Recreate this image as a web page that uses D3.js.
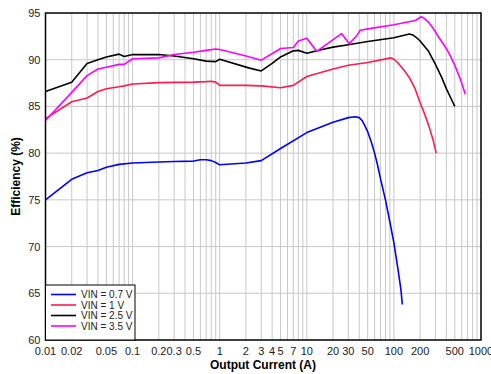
<!DOCTYPE html>
<html>
<head>
<meta charset="utf-8">
<script src="https://cdn.jsdelivr.net/npm/d3@7"></script>
<style>
  body { margin: 0; background: #fff; }
  svg { display: block; font-family: "Liberation Sans", Arial, sans-serif; }
</style>
</head>
<body>
<div id="chart"></div>
<script>
// ---- data ----
const xTickValues = [0.01, 0.02, 0.05, 0.1, 0.2, 0.3, 0.5, 1, 2, 3, 4, 5, 7, 10, 20, 30, 50, 100, 200, 500, 1000];
const yTickValues = [60, 65, 70, 75, 80, 85, 90, 95];

const seriesNames = ["VIN = 0.7 V", "VIN = 1 V", "VIN = 2.5 V", "VIN = 3.5 V"];
const seriesColors = ["#0000ff", "#ff1a4f", "#000000", "#ff00ff"];

const vin07Current = [0.01, 0.02, 0.03, 0.04, 0.05, 0.07, 0.1, 0.2, 0.3, 0.5, 0.6, 0.7, 0.8, 0.9, 1, 2, 3, 5, 10, 20, 30, 36, 40, 43, 46, 50, 55, 60, 65, 70, 80, 90, 100, 110, 120, 125];
const vin07Eff     = [75.0, 77.2, 77.9, 78.15, 78.5, 78.8, 78.95, 79.05, 79.1, 79.15, 79.3, 79.3, 79.2, 79.0, 78.75, 78.95, 79.2, 80.5, 82.2, 83.3, 83.8, 83.9, 83.8, 83.5, 83.0, 82.3, 81.2, 80.0, 78.7, 77.3, 75.0, 72.6, 70.4, 67.9, 65.5, 63.8];

const vin1Current = [0.01, 0.02, 0.03, 0.04, 0.05, 0.07, 0.08, 0.1, 0.2, 0.5, 0.7, 0.8, 0.9, 1, 2, 3, 5, 7, 10, 20, 30, 50, 92, 100, 110, 120, 135, 150, 175, 200, 225, 250, 280, 306];
const vin1Eff     = [83.7, 85.5, 85.9, 86.6, 86.9, 87.1, 87.2, 87.4, 87.55, 87.6, 87.65, 87.7, 87.6, 87.25, 87.25, 87.2, 87.0, 87.25, 88.2, 89.0, 89.4, 89.7, 90.2, 90.05, 89.7, 89.3, 88.7, 88.1, 86.9, 85.4, 84.2, 83.0, 81.5, 80.0];

const vin25Current = [0.01, 0.02, 0.03, 0.04, 0.05, 0.07, 0.08, 0.1, 0.2, 0.3, 0.5, 0.7, 0.9, 1, 2.2, 3, 4, 5, 7, 8, 10, 15, 20, 30, 50, 100, 135, 150, 165, 180, 200, 250, 300, 350, 400, 450, 500];
const vin25Eff     = [86.6, 87.6, 89.6, 90.0, 90.3, 90.6, 90.35, 90.55, 90.55, 90.4, 90.1, 89.85, 89.8, 90.05, 89.1, 88.8, 89.6, 90.3, 90.95, 91.0, 90.7, 91.1, 91.35, 91.6, 91.95, 92.35, 92.65, 92.75, 92.65, 92.4, 92.0, 90.9, 89.5, 88.2, 86.9, 85.9, 85.0];

const vin35Current = [0.01, 0.02, 0.03, 0.04, 0.05, 0.07, 0.08, 0.1, 0.2, 0.3, 0.5, 0.7, 0.9, 1, 2, 3, 5, 7, 8, 10, 13, 25, 30.7, 37.6, 41, 50, 100, 176, 206, 225, 250, 280, 312, 350, 406, 450, 500, 580, 660];
const vin35Eff     = [83.5, 86.5, 88.3, 89.0, 89.2, 89.5, 89.5, 90.1, 90.2, 90.55, 90.8, 91.0, 91.15, 91.1, 90.4, 89.95, 91.2, 91.3, 92.0, 92.3, 90.9, 92.8, 91.7, 92.6, 93.15, 93.3, 93.75, 94.2, 94.6, 94.4, 94.0, 93.4, 92.7, 92.0, 91.1, 90.3, 89.4, 87.9, 86.3];

const seriesCurrents = [vin07Current, vin1Current, vin25Current, vin35Current];
const seriesEffs = [vin07Eff, vin1Eff, vin25Eff, vin35Eff];

// ---- layout ----
const width = 491, height = 374;
const plot = { left: 45.5, right: 481, top: 13, bottom: 340 };

const svg = d3.select("#chart").append("svg")
    .attr("width", width)
    .attr("height", height);

const x = d3.scaleLog().domain([0.01, 1000]).range([plot.left, plot.right]);
const y = d3.scaleLinear().domain([60, 95]).range([plot.bottom, plot.top]);

// grid: every 1..9 in each decade
const xGrid = [];
for (let e = -2; e < 3; e++) {
  for (let m = 1; m <= 9; m++) xGrid.push(m * Math.pow(10, e));
}

svg.append("g")
  .selectAll("line")
  .data(xGrid.filter(v => v > 0.01 * 1.0001))
  .enter().append("line")
  .attr("x1", d => x(d)).attr("x2", d => x(d))
  .attr("y1", plot.top).attr("y2", plot.bottom)
  .attr("stroke", "#c8c8c8")
  .attr("stroke-width", 1);

svg.append("g")
  .selectAll("line")
  .data(yTickValues.slice(1, -1))
  .enter().append("line")
  .attr("x1", plot.left).attr("x2", plot.right)
  .attr("y1", d => y(d)).attr("y2", d => y(d))
  .attr("stroke", "#c8c8c8")
  .attr("stroke-width", 1);

// curves (plain polylines like the reference)
const line = d3.line()
  .x(d => x(d[0]))
  .y(d => y(d[1]));

seriesNames.forEach((name, i) => {
  const pts = seriesCurrents[i].map((c, j) => [c, seriesEffs[i][j]]);
  svg.append("path")
    .datum(pts)
    .attr("d", line)
    .attr("fill", "none")
    .attr("stroke", seriesColors[i])
    .attr("stroke-width", 1.6)
    .attr("stroke-linejoin", "round");
});

// frame
svg.append("rect")
  .attr("x", plot.left).attr("y", plot.top)
  .attr("width", plot.right - plot.left)
  .attr("height", plot.bottom - plot.top)
  .attr("fill", "none")
  .attr("stroke", "#000")
  .attr("stroke-width", 1.5);

// tick labels
svg.append("g")
  .selectAll("text")
  .data(xTickValues)
  .enter().append("text")
  .attr("x", d => x(d))
  .attr("y", plot.bottom + 15)
  .attr("text-anchor", "middle")
  .attr("font-size", 11)
  .attr("fill", "#222")
  .text(d => d);

svg.append("g")
  .selectAll("text")
  .data(yTickValues)
  .enter().append("text")
  .attr("x", plot.left - 5)
  .attr("y", d => y(d) + 4)
  .attr("text-anchor", "end")
  .attr("font-size", 11)
  .attr("fill", "#222")
  .text(d => d);

// axis titles
svg.append("text")
  .attr("x", 263)
  .attr("y", 369)
  .attr("text-anchor", "middle")
  .attr("font-size", 12)
  .attr("font-weight", "bold")
  .text("Output Current (A)");

svg.append("text")
  .attr("transform", `translate(20,${(plot.top + plot.bottom) / 2}) rotate(-90)`)
  .attr("text-anchor", "middle")
  .attr("font-size", 12)
  .attr("font-weight", "bold")
  .text("Efficiency (%)");

// legend
const legend = svg.append("g");
legend.append("rect")
  .attr("x", plot.left).attr("y", 285)
  .attr("width", 135 - plot.left).attr("height", plot.bottom - 285)
  .attr("fill", "#fff")
  .attr("stroke", "#000")
  .attr("stroke-width", 1);

seriesNames.forEach((name, i) => {
  const ly = 294.5 + i * 10.5;
  legend.append("line")
    .attr("x1", 51).attr("x2", 76)
    .attr("y1", ly).attr("y2", ly)
    .attr("stroke", seriesColors[i])
    .attr("stroke-width", 1.6);
  legend.append("text")
    .attr("x", 81).attr("y", ly + 3.5)
    .attr("font-size", 10)
    .attr("fill", "#222")
    .text(name);
});
</script>
</body>
</html>
